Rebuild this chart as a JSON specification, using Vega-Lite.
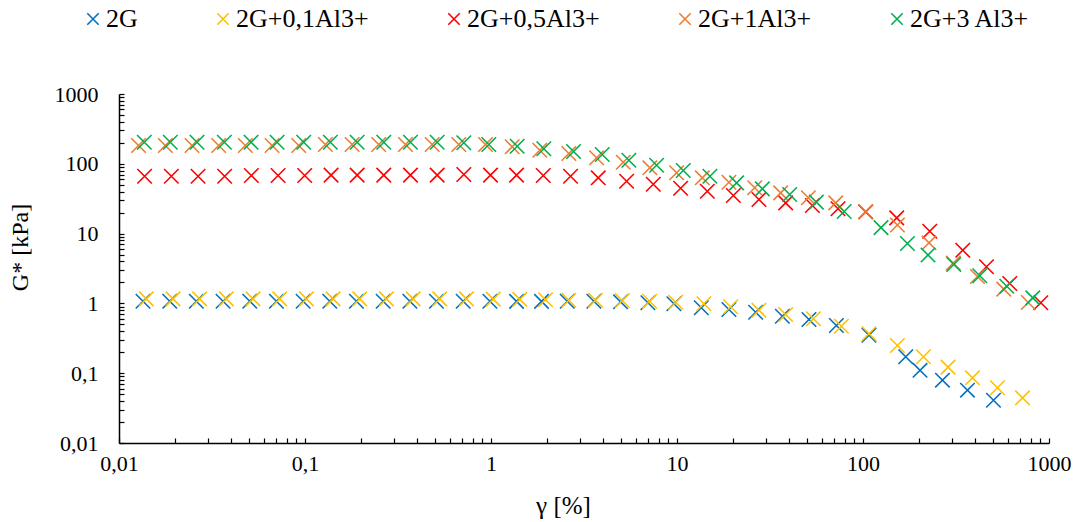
{
  "$schema": "https://vega.github.io/schema/vega-lite/v6.json",
  "width": 930,
  "height": 349,
  "autosize": {"type": "none"},
  "padding": {"left": 119, "top": 94, "right": 24, "bottom": 79},
  "config": {
    "font": "Liberation Serif",
    "view": {"stroke": null},
    "axis": {"labelFont": "Liberation Serif", "titleFont": "Liberation Serif"},
    "legend": {"labelFont": "Liberation Serif", "titleFont": "Liberation Serif"}
  },
  "data": {"values": [
    {"s":"2G","x":0.01346,"y":1.075},{"s":"2G","x":0.01874,"y":1.075},{"s":"2G","x":0.02604,"y":1.075},{"s":"2G","x":0.03626,"y":1.075},{"s":"2G","x":0.05046,"y":1.075},{"s":"2G","x":0.07019,"y":1.075},{"s":"2G","x":0.09768,"y":1.075},{"s":"2G","x":0.1359,"y":1.075},{"s":"2G","x":0.189,"y":1.075},{"s":"2G","x":0.2631,"y":1.075},{"s":"2G","x":0.3663,"y":1.075},{"s":"2G","x":0.509,"y":1.075},{"s":"2G","x":0.7086,"y":1.075},{"s":"2G","x":0.9865,"y":1.075},{"s":"2G","x":1.372,"y":1.07},{"s":"2G","x":1.869,"y":1.07},{"s":"2G","x":2.57,"y":1.075},{"s":"2G","x":3.573,"y":1.075},{"s":"2G","x":4.973,"y":1.054},{"s":"2G","x":6.975,"y":1.02},{"s":"2G","x":9.623,"y":0.987},{"s":"2G","x":13.51,"y":0.865},{"s":"2G","x":19.02,"y":0.818},{"s":"2G","x":26.47,"y":0.748},{"s":"2G","x":36.85,"y":0.655},{"s":"2G","x":51.23,"y":0.588},{"s":"2G","x":71.93,"y":0.482},{"s":"2G","x":107.7,"y":0.35},{"s":"2G","x":169.7,"y":0.172},{"s":"2G","x":202.6,"y":0.11},{"s":"2G","x":267.4,"y":0.0794},{"s":"2G","x":364.4,"y":0.0571},{"s":"2G","x":502.9,"y":0.041},
    {"s":"2G+0,1Al3+","x":0.01402,"y":1.16},{"s":"2G+0,1Al3+","x":0.01952,"y":1.16},{"s":"2G+0,1Al3+","x":0.02713,"y":1.16},{"s":"2G+0,1Al3+","x":0.03777,"y":1.16},{"s":"2G+0,1Al3+","x":0.05257,"y":1.16},{"s":"2G+0,1Al3+","x":0.07312,"y":1.16},{"s":"2G+0,1Al3+","x":0.1018,"y":1.16},{"s":"2G+0,1Al3+","x":0.1416,"y":1.16},{"s":"2G+0,1Al3+","x":0.1969,"y":1.16},{"s":"2G+0,1Al3+","x":0.2741,"y":1.16},{"s":"2G+0,1Al3+","x":0.3816,"y":1.16},{"s":"2G+0,1Al3+","x":0.5302,"y":1.16},{"s":"2G+0,1Al3+","x":0.7381,"y":1.16},{"s":"2G+0,1Al3+","x":1.028,"y":1.15},{"s":"2G+0,1Al3+","x":1.429,"y":1.14},{"s":"2G+0,1Al3+","x":1.964,"y":1.13},{"s":"2G+0,1Al3+","x":2.621,"y":1.111},{"s":"2G+0,1Al3+","x":3.649,"y":1.111},{"s":"2G+0,1Al3+","x":5.08,"y":1.1},{"s":"2G+0,1Al3+","x":7.123,"y":1.075},{"s":"2G+0,1Al3+","x":9.829,"y":1.04},{"s":"2G+0,1Al3+","x":13.95,"y":0.987},{"s":"2G+0,1Al3+","x":19.43,"y":0.894},{"s":"2G+0,1Al3+","x":27.58,"y":0.799},{"s":"2G+0,1Al3+","x":38.39,"y":0.693},{"s":"2G+0,1Al3+","x":54.11,"y":0.602},{"s":"2G+0,1Al3+","x":76.52,"y":0.471},{"s":"2G+0,1Al3+","x":107.7,"y":0.367},{"s":"2G+0,1Al3+","x":153.1,"y":0.249},{"s":"2G+0,1Al3+","x":211.3,"y":0.172},{"s":"2G+0,1Al3+","x":286.6,"y":0.122},{"s":"2G+0,1Al3+","x":387.7,"y":0.0859},{"s":"2G+0,1Al3+","x":528.4,"y":0.0618},{"s":"2G+0,1Al3+","x":720.3,"y":0.0444},
    {"s":"2G+0,5Al3+","x":0.01373,"y":66.4},{"s":"2G+0,5Al3+","x":0.01912,"y":66.4},{"s":"2G+0,5Al3+","x":0.02661,"y":66.4},{"s":"2G+0,5Al3+","x":0.03699,"y":66.4},{"s":"2G+0,5Al3+","x":0.05148,"y":68.0},{"s":"2G+0,5Al3+","x":0.07167,"y":68.0},{"s":"2G+0,5Al3+","x":0.09963,"y":68.0},{"s":"2G+0,5Al3+","x":0.1381,"y":68.7},{"s":"2G+0,5Al3+","x":0.1907,"y":68.7},{"s":"2G+0,5Al3+","x":0.2651,"y":68.7},{"s":"2G+0,5Al3+","x":0.369,"y":68.7},{"s":"2G+0,5Al3+","x":0.5135,"y":68.7},{"s":"2G+0,5Al3+","x":0.7142,"y":70.3},{"s":"2G+0,5Al3+","x":0.9938,"y":68.7},{"s":"2G+0,5Al3+","x":1.372,"y":68.7},{"s":"2G+0,5Al3+","x":1.909,"y":68.0},{"s":"2G+0,5Al3+","x":2.677,"y":66.4},{"s":"2G+0,5Al3+","x":3.773,"y":63.0},{"s":"2G+0,5Al3+","x":5.357,"y":56.3},{"s":"2G+0,5Al3+","x":7.457,"y":51.0},{"s":"2G+0,5Al3+","x":10.46,"y":44.6},{"s":"2G+0,5Al3+","x":14.55,"y":40.5},{"s":"2G+0,5Al3+","x":20.09,"y":35.1},{"s":"2G+0,5Al3+","x":27.58,"y":30.8},{"s":"2G+0,5Al3+","x":38.39,"y":27.6},{"s":"2G+0,5Al3+","x":53.44,"y":25.3},{"s":"2G+0,5Al3+","x":73.37,"y":22.7},{"s":"2G+0,5Al3+","x":103.4,"y":20.5},{"s":"2G+0,5Al3+","x":151.8,"y":16.8},{"s":"2G+0,5Al3+","x":228.5,"y":10.8},{"s":"2G+0,5Al3+","x":343.9,"y":5.78},{"s":"2G+0,5Al3+","x":461.1,"y":3.35},{"s":"2G+0,5Al3+","x":615.4,"y":1.93},{"s":"2G+0,5Al3+","x":903.5,"y":1.02},
    {"s":"2G+1Al3+","x":0.01274,"y":182.9},{"s":"2G+1Al3+","x":0.01775,"y":182.9},{"s":"2G+1Al3+","x":0.0247,"y":182.9},{"s":"2G+1Al3+","x":0.03434,"y":182.9},{"s":"2G+1Al3+","x":0.04779,"y":182.9},{"s":"2G+1Al3+","x":0.06653,"y":182.9},{"s":"2G+1Al3+","x":0.0925,"y":182.9},{"s":"2G+1Al3+","x":0.1287,"y":189.1},{"s":"2G+1Al3+","x":0.1792,"y":189.1},{"s":"2G+1Al3+","x":0.249,"y":189.1},{"s":"2G+1Al3+","x":0.3468,"y":189.1},{"s":"2G+1Al3+","x":0.4828,"y":189.1},{"s":"2G+1Al3+","x":0.6711,"y":189.1},{"s":"2G+1Al3+","x":0.9342,"y":189.1},{"s":"2G+1Al3+","x":1.3,"y":175.2},{"s":"2G+1Al3+","x":1.83,"y":156.6},{"s":"2G+1Al3+","x":2.621,"y":140.4},{"s":"2G+1Al3+","x":3.694,"y":121.9},{"s":"2G+1Al3+","x":5.142,"y":105.4},{"s":"2G+1Al3+","x":7.149,"y":87.6},{"s":"2G+1Al3+","x":9.95,"y":74.3},{"s":"2G+1Al3+","x":13.68,"y":63.0},{"s":"2G+1Al3+","x":19.02,"y":54.5},{"s":"2G+1Al3+","x":26.16,"y":45.3},{"s":"2G+1Al3+","x":36.08,"y":38.4},{"s":"2G+1Al3+","x":50.85,"y":32.6},{"s":"2G+1Al3+","x":71.32,"y":27.6},{"s":"2G+1Al3+","x":103.4,"y":20.7},{"s":"2G+1Al3+","x":153.1,"y":13.3},{"s":"2G+1Al3+","x":226.5,"y":7.38},{"s":"2G+1Al3+","x":305.7,"y":3.77},{"s":"2G+1Al3+","x":412.5,"y":2.43},{"s":"2G+1Al3+","x":571.3,"y":1.6},{"s":"2G+1Al3+","x":773.8,"y":1.03},
    {"s":"2G+3 Al3+","x":0.01368,"y":203.9},{"s":"2G+3 Al3+","x":0.01888,"y":203.9},{"s":"2G+3 Al3+","x":0.02627,"y":203.9},{"s":"2G+3 Al3+","x":0.03685,"y":203.9},{"s":"2G+3 Al3+","x":0.05129,"y":203.9},{"s":"2G+3 Al3+","x":0.07078,"y":203.9},{"s":"2G+3 Al3+","x":0.0984,"y":203.9},{"s":"2G+3 Al3+","x":0.1369,"y":203.9},{"s":"2G+3 Al3+","x":0.1907,"y":203.9},{"s":"2G+3 Al3+","x":0.2651,"y":203.9},{"s":"2G+3 Al3+","x":0.369,"y":203.9},{"s":"2G+3 Al3+","x":0.5135,"y":203.9},{"s":"2G+3 Al3+","x":0.7142,"y":199.9},{"s":"2G+3 Al3+","x":0.9732,"y":189.1},{"s":"2G+3 Al3+","x":1.383,"y":178.7},{"s":"2G+3 Al3+","x":1.923,"y":164.0},{"s":"2G+3 Al3+","x":2.778,"y":150.1},{"s":"2G+3 Al3+","x":3.965,"y":135.9},{"s":"2G+3 Al3+","x":5.512,"y":112.6},{"s":"2G+3 Al3+","x":7.769,"y":95.5},{"s":"2G+3 Al3+","x":10.81,"y":80.2},{"s":"2G+3 Al3+","x":15.03,"y":66.4},{"s":"2G+3 Al3+","x":20.92,"y":53.4},{"s":"2G+3 Al3+","x":28.76,"y":43.8},{"s":"2G+3 Al3+","x":40.34,"y":36.3},{"s":"2G+3 Al3+","x":56.14,"y":28.2},{"s":"2G+3 Al3+","x":79.23,"y":20.7},{"s":"2G+3 Al3+","x":125.0,"y":12.2},{"s":"2G+3 Al3+","x":173.3,"y":7.21},{"s":"2G+3 Al3+","x":223.7,"y":4.94},{"s":"2G+3 Al3+","x":307.6,"y":3.61},{"s":"2G+3 Al3+","x":424.4,"y":2.49},{"s":"2G+3 Al3+","x":592.9,"y":1.76},{"s":"2G+3 Al3+","x":818.2,"y":1.2}
  ]},
  "mark": {"type": "point", "shape": "M-1,-1L1,1M1,-1L-1,1", "filled": false, "size": 210, "strokeWidth": 1.6, "opacity": 1},
  "encoding": {
    "x": {
      "field": "x", "type": "quantitative",
      "scale": {"type": "log", "domain": [0.01, 1000], "nice": false},
      "axis": {
        "values": [0.01,0.02,0.03,0.04,0.05,0.06,0.07,0.08,0.09,0.1,0.2,0.3,0.4,0.5,0.6,0.7,0.8,0.9,1,2,3,4,5,6,7,8,9,10,20,30,40,50,60,70,80,90,100,200,300,400,500,600,700,800,900,1000],
        "labelExpr": "indexof([0.01,0.1,1,10,100,1000], datum.value) >= 0 ? replace(format(datum.value, '~r'), '.', ',') : ''",
        "labelOverlap": false, "labelFlush": false, "grid": false,
        "tickSize": -5, "tickWidth": 1.2, "tickColor": "black",
        "domainColor": "black", "domainWidth": 1.5,
        "labelPadding": 15, "labelFontSize": 22, "labelColor": "black",
        "title": "γ [%]", "titleFontSize": 25, "titleFontWeight": "normal", "titleColor": "black",
        "titleX": 444, "titleY": 62, "titleBaseline": "middle"
      }
    },
    "y": {
      "field": "y", "type": "quantitative",
      "scale": {"type": "log", "domain": [0.01, 1000], "nice": false},
      "axis": {
        "values": [0.01,0.02,0.03,0.04,0.05,0.06,0.07,0.08,0.09,0.1,0.2,0.3,0.4,0.5,0.6,0.7,0.8,0.9,1,2,3,4,5,6,7,8,9,10,20,30,40,50,60,70,80,90,100,200,300,400,500,600,700,800,900,1000],
        "labelExpr": "indexof([0.01,0.1,1,10,100,1000], datum.value) >= 0 ? replace(format(datum.value, '~r'), '.', ',') : ''",
        "labelOverlap": false, "labelFlush": false, "grid": false,
        "tickSize": -5, "tickWidth": 1.2, "tickColor": "black",
        "domainColor": "black", "domainWidth": 1.5,
        "labelPadding": 26, "labelFontSize": 22, "labelColor": "black",
        "title": "G* [kPa]", "titleFontSize": 24, "titleFontWeight": "normal", "titleColor": "black",
        "titleX": -99, "titleY": 153, "titleBaseline": "middle", "titleAngle": -90
      }
    },
    "color": {
      "field": "s", "type": "nominal",
      "scale": {
        "domain": ["2G", "2G+0,1Al3+", "2G+0,5Al3+", "2G+1Al3+", "2G+3 Al3+"],
        "range": ["#0070C0", "#FFC000", "#FF0000", "#ED7D31", "#00B050"]
      },
      "legend": {
        "title": null, "orient": "none", "direction": "horizontal",
        "legendX": -39, "legendY": -88,
        "symbolType": "M-1,-1L1,1M1,-1L-1,1", "symbolSize": 130, "symbolStrokeWidth": 1.6,
        "labelFontSize": 26, "labelColor": "black", "labelOffset": 0,
        "columnPadding": 72, "labelLimit": 300
      }
    },
    "order": {"field": "s", "type": "nominal", "sort": "ascending"}
  }
}
